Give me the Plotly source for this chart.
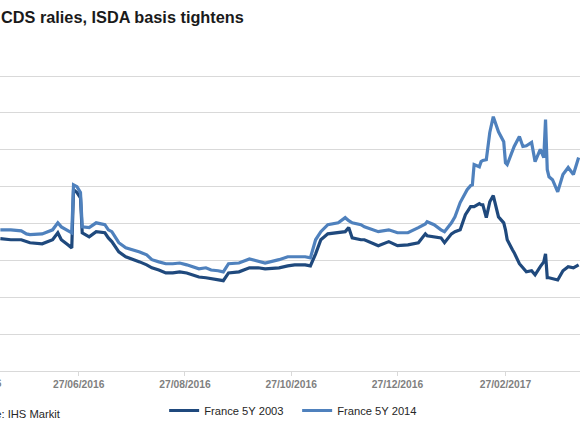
import plotly.graph_objects as go

dates = ["2016-05-13", "2016-05-19", "2016-05-25", "2016-05-28", "2016-05-30", "2016-06-06", "2016-06-12",
         "2016-06-15", "2016-06-17", "2016-06-20", "2016-06-23", "2016-06-24", "2016-06-26", "2016-06-28",
         "2016-06-29", "2016-07-03", "2016-07-07", "2016-07-12", "2016-07-14", "2016-07-16", "2016-07-20",
         "2016-07-24", "2016-07-28", "2016-08-01", "2016-08-05", "2016-08-08", "2016-08-12", "2016-08-16",
         "2016-08-20", "2016-08-24", "2016-08-28", "2016-08-31", "2016-09-04", "2016-09-08", "2016-09-11",
         "2016-09-15", "2016-09-18", "2016-09-21", "2016-09-27", "2016-10-03", "2016-10-08", "2016-10-12",
         "2016-10-20", "2016-10-25", "2016-10-29", "2016-11-04", "2016-11-07", "2016-11-10", "2016-11-13",
         "2016-11-17", "2016-11-23", "2016-11-27", "2016-11-29", "2016-12-01", "2016-12-06", "2016-12-08",
         "2016-12-16", "2016-12-22", "2016-12-27", "2017-01-02", "2017-01-08", "2017-01-12", "2017-01-13",
         "2017-01-17", "2017-01-21", "2017-01-23", "2017-01-27", "2017-01-29", "2017-02-01", "2017-02-04",
         "2017-02-05", "2017-02-07", "2017-02-08", "2017-02-09", "2017-02-12", "2017-02-13", "2017-02-14",
         "2017-02-16", "2017-02-18", "2017-02-20", "2017-02-23", "2017-02-26", "2017-02-27", "2017-02-28",
         "2017-03-03", "2017-03-04", "2017-03-07", "2017-03-09", "2017-03-11", "2017-03-14", "2017-03-16",
         "2017-03-19", "2017-03-21", "2017-03-22", "2017-03-23", "2017-03-24", "2017-03-26", "2017-03-29",
         "2017-04-01", "2017-04-04", "2017-04-07", "2017-04-10"]

france_5y_2014 = [38.3, 38.3, 38.0, 37.2, 37.0, 37.2, 38.3, 40.2, 39.1, 38.3, 37.5, 50.5, 50.0, 48.4,
                  39.1, 38.9, 40.2, 39.7, 38.3, 37.8, 34.8, 33.4, 32.9, 32.3, 31.5, 30.2, 29.6, 29.1,
                  29.1, 29.3, 28.8, 28.3, 27.7, 28.0, 27.4, 27.2, 26.9, 29.1, 29.3, 30.4, 29.9, 29.3,
                  30.2, 31.0, 31.0, 31.0, 30.7, 35.6, 37.8, 39.7, 40.2, 41.6, 40.8, 40.2, 39.7, 39.1,
                  37.8, 38.3, 37.5, 37.5, 38.9, 39.9, 40.5, 39.7, 38.3, 37.8, 40.2, 41.8, 45.7, 48.6,
                  49.2, 50.3, 50.5, 56.0, 55.4, 56.8, 57.1, 57.3, 64.7, 69.0, 64.9, 62.2, 56.5, 56.0,
                  60.1, 60.9, 63.6, 60.9, 61.1, 62.0, 56.8, 60.1, 57.9, 68.2, 54.6, 52.7, 51.9, 48.6,
                  53.3, 55.2, 53.3, 57.9]

france_5y_2003 = [35.9, 35.6, 35.6, 35.1, 34.8, 34.5, 35.6, 37.5, 35.6, 34.5, 33.4, 49.2, 48.4, 47.0,
                  37.5, 36.4, 37.8, 37.5, 36.1, 35.1, 32.3, 31.0, 30.4, 29.6, 28.8, 28.0, 27.4, 26.6,
                  26.6, 26.9, 26.6, 26.1, 25.5, 25.3, 25.0, 24.7, 24.5, 26.6, 26.9, 28.0, 28.0, 27.7,
                  28.0, 28.5, 28.8, 28.8, 28.5, 31.8, 35.6, 37.2, 37.5, 37.8, 38.9, 36.1, 35.6, 35.6,
                  34.0, 35.1, 34.0, 34.2, 34.8, 37.2, 36.7, 36.4, 36.1, 34.8, 37.2, 37.8, 38.3, 42.4,
                  43.2, 44.6, 44.6, 44.6, 45.4, 45.1, 45.1, 41.6, 45.9, 47.6, 41.8, 40.2, 38.3, 35.6,
                  32.9, 32.1, 29.1, 28.0, 26.9, 27.2, 26.1, 28.3, 29.6, 31.8, 25.3, 25.3, 25.0, 24.7,
                  27.2, 28.3, 28.0, 28.8]

tick_dates = ["2016-04-27", "2016-06-27", "2016-08-27", "2016-10-27", "2016-12-27", "2017-02-27"]
tick_labels = ["27/04/2016", "27/06/2016", "27/08/2016", "27/10/2016", "27/12/2016", "27/02/2017"]

FONT = "Liberation Sans, Arial, sans-serif"
W, H = 580, 435
T, B = 75, 64
PH = H - T - B


def ypaper(px):
    return (H - B - px) / PH


fig = go.Figure()
fig.add_trace(go.Scatter(x=dates, y=france_5y_2003, mode="lines", name="France 5Y 2003",
                         line=dict(color="#1F497D", width=3.2)))
fig.add_trace(go.Scatter(x=dates, y=france_5y_2014, mode="lines", name="France 5Y 2014",
                         line=dict(color="#4F81BD", width=3.2)))

fig.update_layout(
    width=W, height=H,
    margin=dict(l=0, r=0, t=T, b=B),
    paper_bgcolor="white", plot_bgcolor="white",
    font=dict(family=FONT, color="#262626"),
    showlegend=True,
    legend=dict(orientation="h", x=0.283, xanchor="left", y=ypaper(396), yanchor="top",
                font=dict(size=11.2, color="#262626"), itemwidth=30, entrywidth=88,
                bgcolor="rgba(0,0,0,0)"),
    xaxis=dict(type="date", range=["2016-05-12 19:00", "2017-04-10 19:00"],
               tickvals=tick_dates[1:], ticktext=tick_labels[1:],
               showgrid=False, showline=True, linecolor="#d9d9d9", linewidth=1,
               ticks="outside", ticklen=4, tickcolor="#d9d9d9",
               tickfont=dict(size=10.3, color="#7f7f7f", family=FONT, weight="bold"),
               zeroline=False),
    yaxis=dict(range=[0, 80.3], tick0=0, dtick=10, showticklabels=False, showgrid=True,
               gridcolor="#d9d9d9", gridwidth=1, zeroline=False, showline=False, ticks=""),
    annotations=[
        dict(text="<b>CDS ralies, ISDA basis tightens</b>", xref="paper", yref="paper",
             x=-0.002, xanchor="left", y=ypaper(17), yanchor="middle",
             showarrow=False, font=dict(size=16.3, color="#1a1a1a", family=FONT)),
        dict(text="Source: IHS Markit", xref="paper", yref="paper",
             x=63 / W, xanchor="right", y=ypaper(414), yanchor="middle",
             showarrow=False, font=dict(size=11.2, color="#262626", family=FONT)),
        dict(text="<b>" + tick_labels[0] + "</b>", xref="paper", yref="paper",
             x=4 / W, xanchor="right", y=ypaper(383), yanchor="middle",
             showarrow=False, font=dict(size=10.3, color="#7f7f7f", family=FONT)),
    ],
)

fig.write_html("out.html", config={"displayModeBar": False},
               post_script="document.body.style.margin='0';")
